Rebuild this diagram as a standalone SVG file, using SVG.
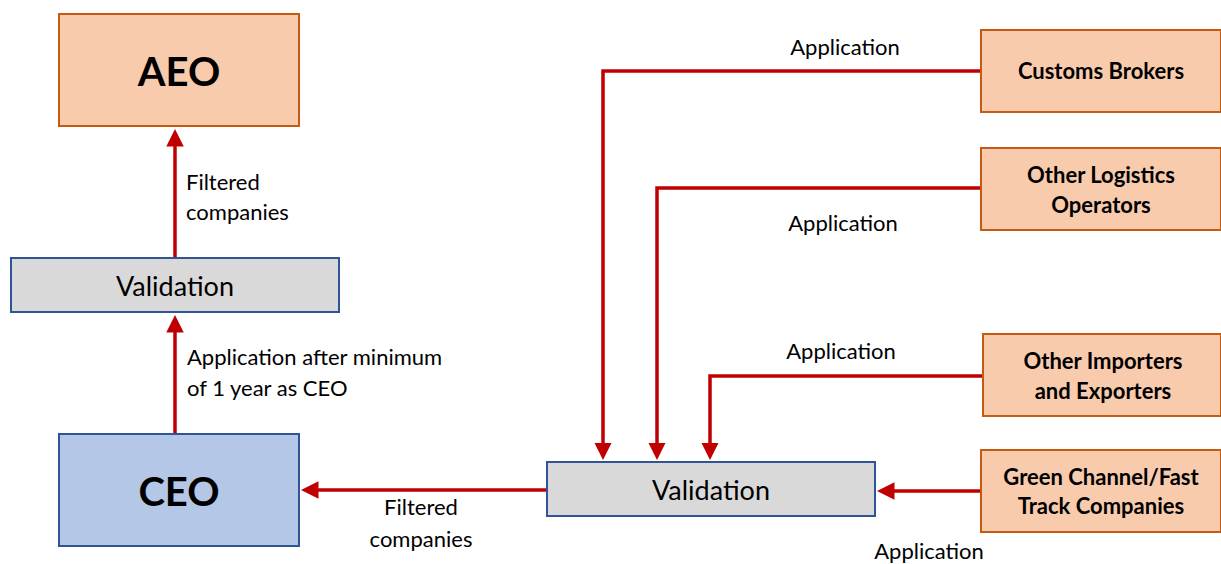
<svg xmlns="http://www.w3.org/2000/svg" width="1221" height="564" viewBox="0 0 1221 564">
<style>
.org{fill:#f8cbad;stroke:#c55a11;stroke-width:2}
.val{fill:#d9d9d9;stroke:#2f5597;stroke-width:2}
.ceo{fill:#b4c7e7;stroke:#2f5597;stroke-width:2}
.t{font-family:Lato,"Liberation Sans",sans-serif;fill:#000}
.lbl{font-size:22px}
.nb{font-size:22px;font-weight:bold;text-anchor:middle}
.big{font-size:40px;font-weight:bold;text-anchor:middle}
.vt{font-size:27px;text-anchor:middle}
.c{fill:none;stroke:#c00000;stroke-width:3.5}
</style>
<defs>
<marker id="ah" markerWidth="5" markerHeight="5" refX="1" refY="2.5" orient="auto" markerUnits="strokeWidth">
<path d="M0,0 L5,2.5 L0,5 Z" fill="#c00000"/>
</marker>
</defs>
<g id="connectors">
<path class="c" d="M175,434 V329" marker-end="url(#ah)"/>
<path class="c" d="M175,258 V143" marker-end="url(#ah)"/>
<path class="c" d="M981,71 H603 V446" marker-end="url(#ah)"/>
<path class="c" d="M981,188 H657 V446" marker-end="url(#ah)"/>
<path class="c" d="M983,376 H710 V446" marker-end="url(#ah)"/>
<path class="c" d="M981,491 H891" marker-end="url(#ah)"/>
<path class="c" d="M547,490 H315" marker-end="url(#ah)"/>
</g>
<g id="AEO"><rect class="org" x="59" y="14" width="240" height="112"/><text class="t big" x="179" y="86">AEO</text></g>
<g id="validation-left"><rect class="val" x="11" y="258" width="328" height="54"/><text class="t vt" x="175" y="296">Validation</text></g>
<g id="CEO"><rect class="ceo" x="59" y="434" width="240" height="112"/><text class="t big" x="179" y="506">CEO</text></g>
<g id="validation-right"><rect class="val" x="547" y="462" width="328" height="54"/><text class="t vt" x="711" y="500">Validation</text></g>
<g id="customs-brokers"><rect class="org" x="981" y="30" width="240" height="82"/><text class="t nb" x="1101" y="79">Customs Brokers</text></g>
<g id="logistics"><rect class="org" x="981" y="148" width="240" height="82"/><text class="t nb" x="1101" y="183">Other Logistics</text><text class="t nb" x="1101" y="213">Operators</text></g>
<g id="importers"><rect class="org" x="983" y="334" width="238" height="82"/><text class="t nb" x="1103" y="369">Other Importers</text><text class="t nb" x="1103" y="399">and Exporters</text></g>
<g id="green-channel"><rect class="org" x="981" y="450" width="240" height="82"/><text class="t nb" x="1101" y="485">Green Channel/Fast</text><text class="t nb" x="1101" y="514">Track Companies</text></g>
<g id="labels">
<text class="t lbl" x="186" y="190">Filtered</text>
<text class="t lbl" x="186" y="220">companies</text>
<text class="t lbl" x="187" y="365">Application after minimum</text>
<text class="t lbl" x="187" y="396">of 1 year as CEO</text>
<text class="t lbl" x="421" y="515" text-anchor="middle">Filtered</text>
<text class="t lbl" x="421" y="547" text-anchor="middle">companies</text>
<text class="t lbl" x="845" y="55" text-anchor="middle">Application</text>
<text class="t lbl" x="843" y="231" text-anchor="middle">Application</text>
<text class="t lbl" x="841" y="359" text-anchor="middle">Application</text>
<text class="t lbl" x="929" y="559" text-anchor="middle">Application</text>
</g>
</svg>
